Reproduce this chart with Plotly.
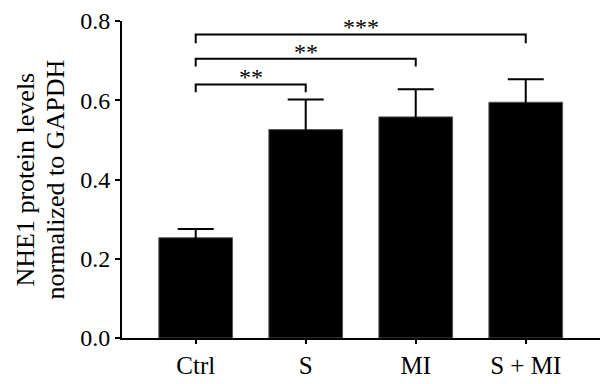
import plotly.graph_objects as go

categories = ["Ctrl", "S", "MI", "S + MI"]
means = [0.253, 0.526, 0.558, 0.595]
sems = [0.022, 0.076, 0.070, 0.058]

# significance comparisons: (from index, to index, label, bracket level, drop)
comp_from = [0, 0, 0]
comp_to = [1, 2, 3]
comp_labels = ["**", "**", "***"]
comp_levels = [0.640, 0.705, 0.766]
comp_drop = [0.020, 0.020, 0.022]

y_ticks = [0.0, 0.2, 0.4, 0.6, 0.8]
y_ticklabels = ["0.0", "0.2", "0.4", "0.6", "0.8"]
y_title_lines = ["NHE1 protein levels", "normalized to GAPDH"]

FONT = "Liberation Serif"
L, R, T, B, W, H = 122, 0, 21, 46, 600, 384

fig = go.Figure()
fig.add_trace(go.Bar(
    x=list(range(len(categories))),
    y=means,
    width=0.67,
    marker=dict(color="black", line=dict(color="#555", width=1)),
    error_y=dict(type="data", array=sems, visible=True, color="black",
                 thickness=2, width=18),
    showlegend=False,
))

shapes = []
annotations = []
for a, b, lab, lv, dr in zip(comp_from, comp_to, comp_labels, comp_levels, comp_drop):
    shapes.append(dict(type="path", xref="x", yref="y",
                       path=f"M {a},{lv-dr} L {a},{lv} L {b},{lv} L {b},{lv-dr}",
                       line=dict(color="black", width=2)))
    annotations.append(dict(x=(a + b) / 2, y=lv, xref="x", yref="y",
                            text=lab, showarrow=False, yanchor="bottom", yshift=-8,
                            font=dict(family=FONT, size=24, color="black")))

# y-axis title as two rotated lines, centred at pixel x = 25 and 55
for px, line in zip([25, 55], y_title_lines):
    annotations.append(dict(x=(px - L) / (W - L - R), y=0.5, xref="paper", yref="paper",
                            xanchor="center", yanchor="middle",
                            text=line, showarrow=False, textangle=-90,
                            font=dict(family=FONT, size=26, color="black")))

fig.update_layout(
    width=W, height=H,
    margin=dict(l=L, r=R, t=T, b=B, autoexpand=False),
    plot_bgcolor="white", paper_bgcolor="white",
    font=dict(family=FONT, size=20, color="black"),
    shapes=shapes,
    annotations=annotations,
    xaxis=dict(
        range=[-0.67, 3.675], automargin=False,
        tickmode="array", tickvals=list(range(len(categories))), ticktext=categories,
        showline=True, linecolor="black", linewidth=2,
        ticks="outside", ticklen=4, tickwidth=2, tickcolor="black",
        showgrid=False, zeroline=False,
        tickfont=dict(family=FONT, size=25, color="black"),
    ),
    yaxis=dict(
        range=[0, 0.8], automargin=False,
        tickmode="array", tickvals=y_ticks, ticktext=y_ticklabels,
        showline=True, linecolor="black", linewidth=2,
        ticks="outside", ticklen=5, tickwidth=2, tickcolor="black",
        showgrid=False, zeroline=False,
        tickfont=dict(family=FONT, size=24, color="black"),
    ),
)

fig.write_html("out.html", config={"displayModeBar": False},
               post_script="document.body.style.margin='0';")
